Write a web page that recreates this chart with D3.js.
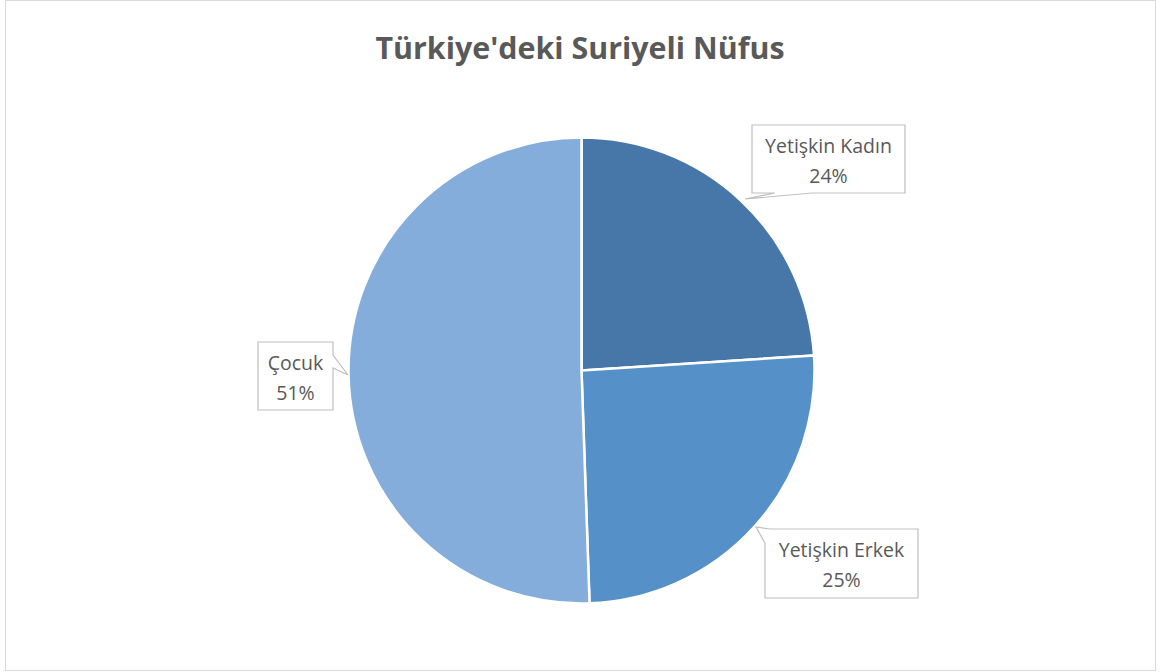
<!DOCTYPE html>
<html><head><meta charset="utf-8">
<script src="https://cdn.jsdelivr.net/npm/d3@7"></script>
<style>body{margin:0;background:#fff}svg{display:block}</style>
</head><body>
<svg id="c" width="1160" height="672"></svg>
<script>
const title = "Türkiye'deki Suriyeli Nüfus";
const categories = ["Yetişkin Kadın", "Yetişkin Erkek", "Çocuk"];
const values = [23.97, 25.48, 50.55];
const colors = ["#4677A8", "#5591C8", "#84ADDB"];

const svg = d3.select("#c");
svg.append("rect").attr("x",5.5).attr("y",0.5).attr("width",1150).attr("height",670)
  .attr("fill","#fff").attr("stroke","#d9d9d9").attr("stroke-width",1);

svg.append("text").attr("x",580).attr("y",59).attr("text-anchor","middle")
  .attr("font-family","Open Sans, sans-serif").attr("font-weight",700)
  .attr("font-size",30.4).attr("fill","#595959").text(title);

const cx = 581.5, cy = 370.5, R = 233;
const total = d3.sum(values);
const pie = d3.pie().sort(null).value(d=>d)(values);
const arc = d3.arc().innerRadius(0).outerRadius(R);
const g = svg.append("g").attr("transform",`translate(${cx},${cy})`);
g.selectAll("path").data(pie).join("path")
  .attr("d",arc).attr("fill",(d,i)=>colors[i])
  .attr("stroke","#fff").attr("stroke-width",2.5).attr("stroke-linejoin","round");

const boxes = [
  {x:752, y:125, w:153, h:68, tail:[[775,193],[745,199],[812,193]]},
  {x:765, y:529, w:153, h:69, tail:[[770,529],[756,527],[765,543]]},
  {x:258, y:342, w:75, h:68, tail:[[333,355],[348,375],[333,368]]}
];
const lab = svg.append("g");
boxes.forEach((b,i)=>{
  const t = b.tail;
  let p;
  if(i===0){
    p = `M${b.x},${b.y}H${b.x+b.w}V${b.y+b.h}H${t[2][0]}L${t[1][0]},${t[1][1]}L${t[0][0]},${b.y+b.h}H${b.x}Z`;
  } else if(i===1){
    p = `M${b.x},${b.y+14}L${t[1][0]},${t[1][1]}L${t[0][0]},${b.y}H${b.x+b.w}V${b.y+b.h}H${b.x}Z`;
  } else {
    p = `M${b.x},${b.y}H${b.x+b.w}V${t[0][1]}L${t[1][0]},${t[1][1]}L${b.x+b.w},${t[2][1]}V${b.y+b.h}H${b.x}Z`;
  }
  lab.append("path").attr("d",p).attr("fill","#fff").attr("stroke","#bfbfbf").attr("stroke-width",1.2);
  const tx = b.x + b.w/2;
  const txt = lab.append("text").attr("text-anchor","middle")
    .attr("font-family","Open Sans, sans-serif").attr("font-size",19.5).attr("fill","#595959");
  txt.append("tspan").attr("x",tx).attr("y",b.y+28).text(categories[i]);
  txt.append("tspan").attr("x",tx).attr("y",b.y+58).text(Math.round(values[i]/total*100)+"%");
});
</script>
</body></html>
